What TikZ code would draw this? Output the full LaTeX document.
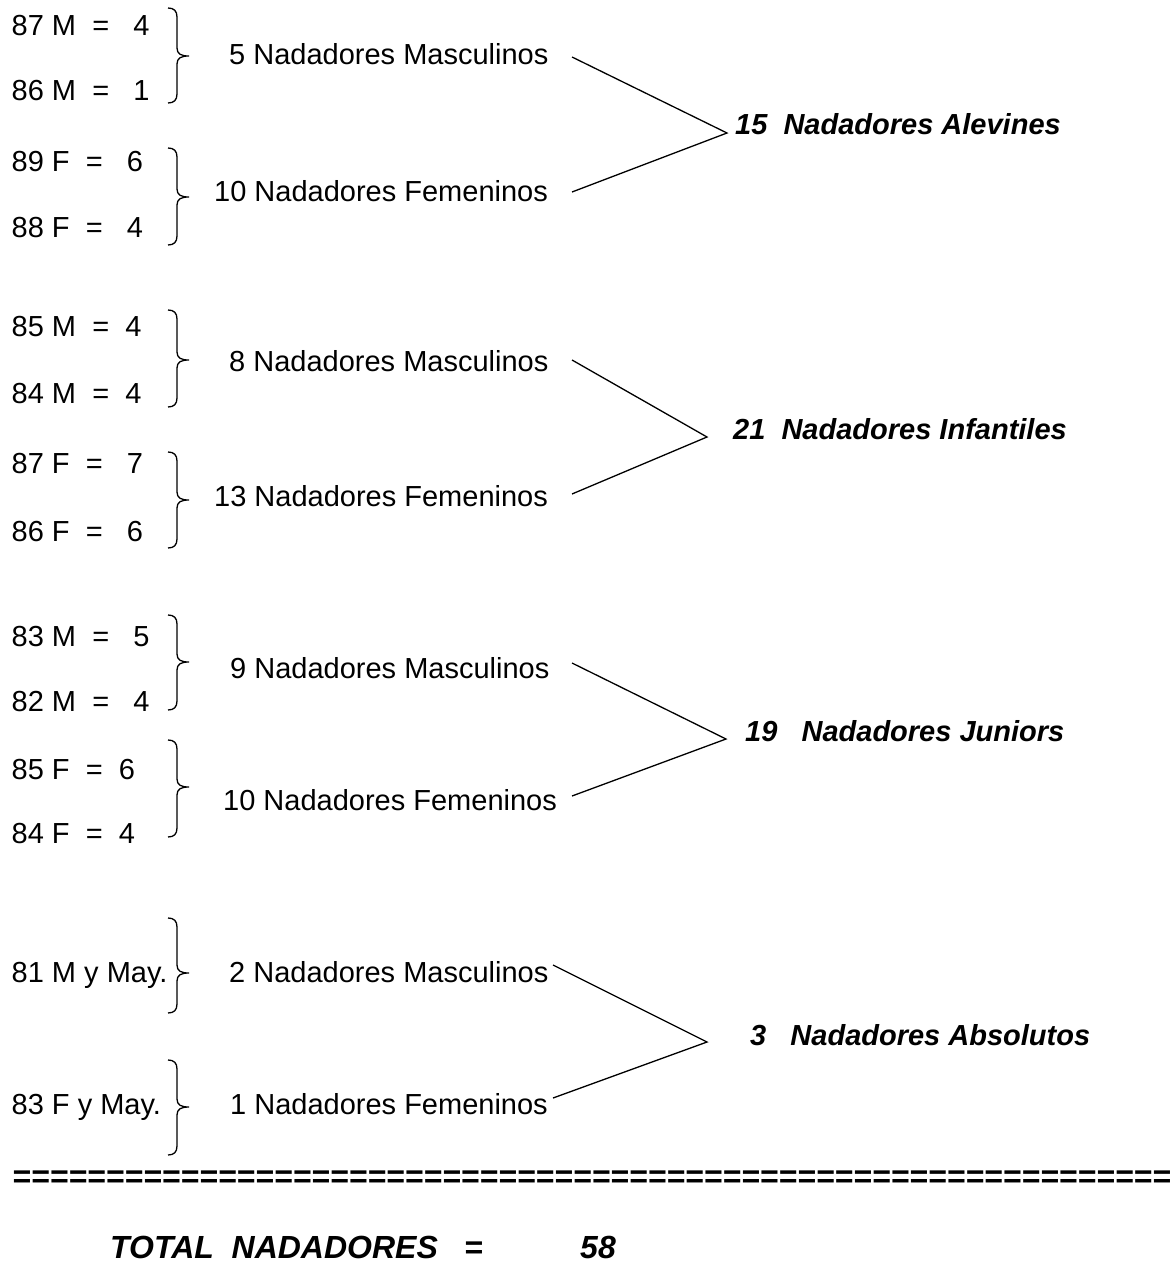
\documentclass[tikz,border=0pt]{standalone}
\usepackage{fontspec}
\setmainfont{Liberation Sans}
\newcommand\mybrace[3]{\draw[bracestyle] (168,#1) .. controls (174,#1) and (177,#1+3) .. (177,#1+9) -- (177,#2-8) .. controls (177,#2-2) and (181,#2) .. (189,#2) .. controls (181,#2) and (177,#2+2) .. (177,#2+8) -- (177,#3-9) .. controls (177,#3-3) and (174,#3) .. (168,#3);}
\begin{document}
\begin{tikzpicture}[x=1pt,y=-1pt,
  lab/.style={anchor=base west,inner sep=0pt,font=\fontsize{29}{34}\selectfont},
  tot/.style={anchor=base west,inner sep=0pt,font=\fontsize{29}{34}\selectfont\bfseries\itshape},
  big/.style={anchor=base west,inner sep=0pt,font=\fontsize{32}{38}\selectfont\bfseries\itshape},
  conn/.style={line width=1.3pt},
  bracestyle/.style={line width=1.3pt}]
\useasboundingbox[fill=white] (0,0) rectangle (1175,1263);

% ---------- Group 1: Alevines
\node[lab] (a1) at (11.5,35.5)  {87 M\ \ =\ \ \ 4};
\node[lab] (a2) at (11.5,100)   {86 M\ \ =\ \ \ 1};
\node[lab] (a3) at (11.5,171)   {89 F\ \ =\ \ \ 6};
\node[lab] (a4) at (11.5,237.5) {88 F\ \ =\ \ \ 4};
\mybrace{8}{56}{103}
\mybrace{148}{197}{245}
\node[lab] (am) at (229,64.5)  {5 Nadadores Masculinos};
\node[lab] (af) at (214,201.5) {10 Nadadores Femeninos};
\node[tot] (at) at (735,134.5) {15\ \ Nadadores Alevines};
\coordinate (g1m) at (572,57);
\coordinate (g1j) at (727,133);
\coordinate (g1f) at (572,192);
\draw[conn] (g1m) -- (g1j) -- (g1f);

% ---------- Group 2: Infantiles
\node[lab] (b1) at (11.5,336.5) {85 M\ \ =\ \ 4};
\node[lab] (b2) at (11.5,403.5) {84 M\ \ =\ \ 4};
\node[lab] (b3) at (11.5,473)   {87 F\ \ =\ \ \ 7};
\node[lab] (b4) at (11.5,541)   {86 F\ \ =\ \ \ 6};
\mybrace{310}{360}{407}
\mybrace{452}{500}{548}
\node[lab] (bm) at (229,371) {8 Nadadores Masculinos};
\node[lab] (bf) at (214,506) {13 Nadadores Femeninos};
\node[tot] (bt) at (733,439.5) {21\ \ Nadadores Infantiles};
\coordinate (g2m) at (572,360);
\coordinate (g2j) at (707,437);
\coordinate (g2f) at (572,494);
\draw[conn] (g2m) -- (g2j) -- (g2f);

% ---------- Group 3: Juniors
\node[lab] (c1) at (11.5,646.5) {83 M\ \ =\ \ \ 5};
\node[lab] (c2) at (11.5,711)   {82 M\ \ =\ \ \ 4};
\node[lab] (c3) at (11.5,779)   {85 F\ \ =\ \ 6};
\node[lab] (c4) at (11.5,843)   {84 F\ \ =\ \ 4};
\mybrace{615}{662}{710}
\mybrace{740}{787}{837}
\node[lab] (cm) at (230,678.5) {9 Nadadores Masculinos};
\node[lab] (cf) at (223,810.5) {10 Nadadores Femeninos};
\node[tot] (ct) at (745,741.5) {19\ \ \ Nadadores Juniors};
\coordinate (g3m) at (572,663);
\coordinate (g3j) at (726,739);
\coordinate (g3f) at (572,796);
\draw[conn] (g3m) -- (g3j) -- (g3f);

% ---------- Group 4: Absolutos
\node[lab] (d1) at (11.5,982.5)  {81 M y May.};
\node[lab] (d2) at (11.5,1114.5) {83 F y May.};
\mybrace{918}{973}{1013}
\mybrace{1060}{1107}{1155}
\node[lab] (dm) at (229,982.5)  {2 Nadadores Masculinos};
\node[lab] (df) at (230,1114.5) {1 Nadadores Femeninos};
\node[tot] (dt) at (750,1045.5) {3\ \ \ Nadadores Absolutos};
\coordinate (g4m) at (553,965);
\coordinate (g4j) at (707,1042);
\coordinate (g4f) at (553,1098);
\draw[conn] (g4m) -- (g4j) -- (g4f);

% ---------- Total
\node[big] (eqline) at (12,1187)
 {==============================================================};
\node[big] (tt1) at (110,1258) {TOTAL\ \ NADADORES};
\node[big] (tt2) at (464,1258) {=};
\node[big] (tt3) at (580,1258) {58};
\end{tikzpicture}
\end{document}
